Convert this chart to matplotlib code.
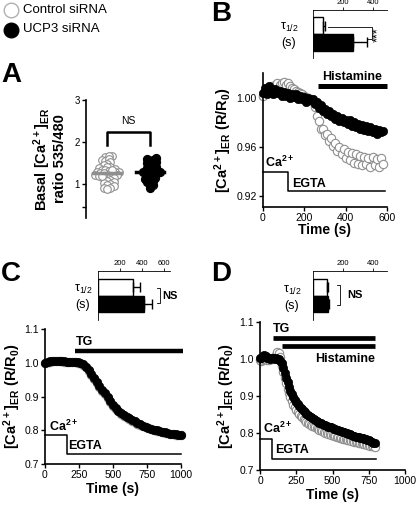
import numpy as np
import matplotlib.pyplot as plt

plt.rcParams['font.family'] = ['Liberation Sans', 'DejaVu Sans']
plt.rcParams['mathtext.default'] = 'regular'

W, H = 416, 505

# panel A: basal ER calcium, ratio 535/480
ctrl_A = [1.66, 1.65, 1.68, 1.58, 1.55, 1.60, 1.52, 1.48, 1.45, 1.42, 1.40, 1.38, 1.36, 1.35,
          1.33, 1.31, 1.30, 1.29, 1.28, 1.27, 1.25, 1.24, 1.22, 1.21, 1.20, 1.18, 1.16, 1.15,
          1.12, 1.10, 1.08, 1.05, 1.02, 1.00, 0.98, 0.95, 0.92, 0.90, 0.88, 1.26, 1.34, 1.19]
ucp3_A = [1.62, 1.60, 1.58, 1.55, 1.52, 1.50, 1.48, 1.45, 1.42, 1.40, 1.38, 1.35, 1.33, 1.31,
          1.30, 1.29, 1.28, 1.27, 1.25, 1.23, 1.20, 1.18, 1.15, 1.12, 1.10, 1.08, 1.05, 1.02,
          0.98, 0.92]

# panel B: histamine
t_B = np.arange(0, 590, 10)
ucp3_B = [1.004, 1.008, 1.003, 1.010, 1.006, 1.003, 1.007, 1.004, 1.006, 1.002,
          1.005, 1.002, 1.004, 1.000, 1.003, 1.001, 1.003, 0.999, 1.002, 0.999,
          1.001, 0.997, 1.000, 0.998, 0.999, 0.995, 0.997, 0.992, 0.994, 0.989,
          0.991, 0.987, 0.989, 0.985, 0.987, 0.983, 0.985, 0.981, 0.984, 0.980,
          0.982, 0.979, 0.982, 0.977, 0.980, 0.976, 0.979, 0.975, 0.978, 0.974,
          0.977, 0.973, 0.976, 0.972, 0.975, 0.971, 0.974, 0.972, 0.973]
ctrl_B = [1.002, 1.004, 1.006, 1.008, 1.009, 1.010, 1.011, 1.012, 1.011, 1.012,
          1.013, 1.011, 1.012, 1.010, 1.008, 1.007, 1.006, 1.005, 1.004, 1.003,
          1.002, 1.001, 1.000, 0.999, 0.997, 0.993, 0.985, 0.981, 0.975, 0.975,
          0.970, 0.971, 0.965, 0.967, 0.961, 0.963, 0.957, 0.960, 0.954, 0.958,
          0.951, 0.956, 0.949, 0.955, 0.947, 0.954, 0.946, 0.953, 0.945, 0.952,
          0.946, 0.951, 0.944, 0.952, 0.945, 0.950, 0.944, 0.951, 0.946]
tau_B = [65, 265]
tau_B_err = [15, 95]

# panel C: thapsigargin
t_C = np.arange(0, 1001, 20)
ucp3_C = [1.000, 1.002, 1.004, 1.005, 1.006, 1.006, 1.005, 1.004, 1.003, 1.003, 1.002, 1.002,
          1.001, 1.000, 0.995, 0.988, 0.978, 0.966, 0.955, 0.943, 0.931, 0.920, 0.909, 0.898,
          0.886, 0.875, 0.866, 0.858, 0.851, 0.845, 0.840, 0.835, 0.830, 0.826, 0.822, 0.818,
          0.814, 0.811, 0.808, 0.805, 0.802, 0.800, 0.798, 0.796, 0.794, 0.792, 0.790, 0.789,
          0.788, 0.787, 0.786]
ctrl_C = [0.999, 1.001, 1.003, 1.004, 1.005, 1.005, 1.004, 1.003, 1.002, 1.002, 1.001, 1.001,
          1.000, 0.999, 0.993, 0.986, 0.976, 0.964, 0.952, 0.940, 0.928, 0.917, 0.906, 0.895,
          0.884, 0.873, 0.864, 0.856, 0.849, 0.843, 0.838, 0.833, 0.828, 0.824, 0.820, 0.816,
          0.813, 0.810, 0.807, 0.804, 0.801, 0.799, 0.797, 0.795, 0.793, 0.791, 0.789, 0.788,
          0.787, 0.786, 0.785]
tau_C = [320, 420]
tau_C_err = [60, 70]

# panel D: TG + histamine
t_D = np.arange(0, 800, 10)
ucp3_D = [1.002, 1.004, 1.008, 1.010, 1.007, 1.004, 1.002, 1.001, 1.003, 1.002, 1.000, 1.002,
          1.001, 0.999, 0.995, 0.988, 0.976, 0.963, 0.950, 0.937, 0.925, 0.914, 0.905, 0.897,
          0.890, 0.884, 0.878, 0.873, 0.868, 0.864, 0.860, 0.856, 0.852, 0.849, 0.846, 0.843,
          0.840, 0.837, 0.835, 0.833, 0.830, 0.828, 0.826, 0.824, 0.822, 0.821, 0.819, 0.817,
          0.816, 0.815, 0.813, 0.812, 0.810, 0.809, 0.808, 0.806, 0.805, 0.803, 0.802, 0.800,
          0.799, 0.797, 0.796, 0.794, 0.793, 0.791, 0.790, 0.789, 0.788, 0.787, 0.786, 0.786,
          0.785, 0.784, 0.782, 0.780, 0.778, 0.776, 0.774, 0.772]
ctrl_D = [0.996, 0.994, 0.997, 0.999, 1.001, 0.998, 0.997, 0.999, 1.000, 1.003, 1.006, 1.012,
          1.018, 1.015, 1.005, 0.982, 0.966, 0.950, 0.934, 0.920, 0.907, 0.896, 0.886, 0.877,
          0.869, 0.862, 0.856, 0.851, 0.846, 0.842, 0.838, 0.834, 0.831, 0.828, 0.825, 0.822,
          0.820, 0.818, 0.815, 0.813, 0.811, 0.809, 0.807, 0.805, 0.803, 0.801, 0.800, 0.798,
          0.797, 0.795, 0.794, 0.792, 0.791, 0.790, 0.788, 0.787, 0.786, 0.785, 0.784, 0.783,
          0.782, 0.781, 0.780, 0.779, 0.778, 0.777, 0.776, 0.775, 0.774, 0.773, 0.772, 0.771,
          0.770, 0.769, 0.768, 0.767, 0.766, 0.765, 0.764, 0.763]
tau_D = [93, 100]
tau_D_err = [8, 8]

GREY = '#8f8f8f'
YLAB = '[Ca$^{2+}$]$_{ER}$ (R/R$_0$)'


def box(l, t, r, b):
    return [l / W, 1 - b / H, (r - l) / W, (b - t) / H]


def swarm(vals, center, dx, dy):
    """simple beeswarm offsets so dots dont sit on top of each other"""
    placed = []
    xs = np.zeros(len(vals))
    for i in np.argsort(vals):
        y = vals[i]
        for k in range(40):
            c = (k + 1) // 2 * dx * 0.5 * (1 if k % 2 else -1)
            if all(((c - px) / dx) ** 2 + ((y - py) / dy) ** 2 >= 1 for px, py in placed):
                break
        placed.append((c, y))
        xs[i] = center + c
    return xs


def style(ax):
    for s in ['top', 'right']:
        ax.spines[s].set_visible(False)
    for s in ['left', 'bottom']:
        ax.spines[s].set_linewidth(1.2)
    ax.tick_params(direction='out', length=3, width=1, labelsize=7.5, pad=1.5)


def trace(ax, t, ctrl, ucp3):
    ax.plot(t, ctrl, 'o', ms=6, mfc='white', mec=GREY, mew=0.8, clip_on=False)
    ax.plot(t, ucp3, 'o', ms=6, mfc='black', mec='black', mew=0.5, clip_on=False)


def stim(ax, hi, lo, t_sw, t_end):
    ax.plot([0, t_sw, t_sw, t_end], [hi, hi, lo, lo], color='black', lw=1.1, clip_on=False)


def inset(rect, vals, errs, xmax, ticks, label_xy):
    ax = fig.add_axes(box(*rect))
    ax.barh([0, 1], vals, height=1.0, color=['white', 'black'], edgecolor='black', lw=1)
    ax.errorbar(vals, [0, 1], xerr=[[0, 0], errs], fmt='none', ecolor='black',
                elinewidth=1, capsize=3.5, capthick=1)
    ax.set_xlim(0, xmax)
    ax.set_ylim(1.95, -0.95)
    ax.xaxis.tick_top()
    ax.set_xticks(ticks)
    ax.set_yticks([])
    ax.tick_params(axis='x', labelsize=5.5, length=2, width=0.6, pad=1)
    for s in ['bottom', 'right']:
        ax.spines[s].set_visible(False)
    for s in ['top', 'left']:
        ax.spines[s].set_linewidth(0.6)
    x, y = label_xy
    fig.text(x / W, 1 - y / H, 'τ$_{1/2}$', ha='center', va='center', fontsize=9)
    fig.text(x / W, 1 - (y + 16) / H, '(s)', ha='center', va='center', fontsize=9)
    return ax


fig = plt.figure(figsize=(W / 100, H / 100), dpi=100)

# legend and panel letters
ov = fig.add_axes([0, 0, 1, 1])
ov.set_xlim(0, W)
ov.set_ylim(H, 0)
ov.axis('off')
ov.plot(10.5, 10, 'o', ms=10.5, mfc='white', mec='#b0b0b0', mew=1)
ov.plot(10.5, 29.5, 'o', ms=10.5, mfc='black', mec='black')
ov.text(23, 10, 'Control siRNA', va='center', fontsize=9.5)
ov.text(23, 29.5, 'UCP3 siRNA', va='center', fontsize=9.5)
for lab, x, y in [('A', 1, 75), ('B', 211, 14), ('C', 1, 274), ('D', 211, 274)]:
    ov.text(x, y, lab, fontsize=20, fontweight='bold', va='center')

# ---- A
axA = fig.add_axes(box(86, 100, 176, 218))
dx, dy = 3.3 / 43, 3.3 / 42
axA.scatter(swarm(ctrl_A, 0.49, dx, dy), ctrl_A, s=30, facecolors='white',
            edgecolors=GREY, lw=0.8, zorder=2)
axA.scatter(swarm(ucp3_A, 1.49, dx, dy), ucp3_A, s=32, color='black', zorder=2)
for xc, v, col in [(0.49, ctrl_A, GREY), (1.49, ucp3_A, 'black')]:
    m = np.mean(v)
    sem = np.std(v) / np.sqrt(len(v))
    axA.plot([xc - 0.33, xc + 0.33], [m, m], color=col, lw=2.5, zorder=3)
    axA.errorbar(xc, m, yerr=sem, color=col, capsize=3, lw=1.2, zorder=3)
axA.plot([0.49, 0.49, 1.49, 1.49], [1.93, 2.23, 2.23, 1.93], color='black', lw=1.8)
axA.text(0.99, 2.38, 'NS', ha='center', va='bottom', fontsize=7.5)
axA.set_xlim(0, 2.1)
axA.set_ylim(0.2, 3.0)
style(axA)
axA.spines['bottom'].set_visible(False)
axA.set_xticks([])
axA.set_yticks([0.45, 1, 2, 3])
axA.set_yticklabels(['', '1', '2', '3'])
axA.tick_params(labelsize=7)
axA.set_ylabel('Basal [Ca$^{2+}$]$_{ER}$\nratio 535/480', fontweight='bold',
               fontsize=10.5, labelpad=5, linespacing=1.05)

# ---- B
axB = fig.add_axes(box(263, 73, 387, 207))
trace(axB, t_B, ctrl_B, ucp3_B)
axB.plot([268, 600], [1.0098, 1.0098], color='black', lw=3.6, solid_capstyle='butt', clip_on=False)
axB.text(430, 1.0125, 'Histamine', ha='center', va='bottom', fontsize=9, fontweight='bold')
stim(axB, 0.9396, 0.9238, 120, 590)
axB.text(10, 0.9415, 'Ca$^{2+}$', va='bottom', fontsize=9, fontweight='bold')
axB.text(140, 0.9300, 'EGTA', va='center', fontsize=9, fontweight='bold')
axB.set_xlim(0, 600)
axB.set_ylim(0.911, 1.0204)
axB.set_xticks([0, 200, 400, 600])
axB.set_yticks([0.92, 0.96, 1.00])
axB.set_yticklabels(['0.92', '0.96', '1.00'])
style(axB)
axB.set_xlabel('Time (s)', fontweight='bold', fontsize=10, labelpad=0)
axB.set_ylabel(YLAB, fontweight='bold', fontsize=10.5, labelpad=2)

insB = inset((313, 10, 387, 58), tau_B, tau_B_err, 490, [200, 400], (289, 27))
insB.plot([99, 391, 391, 360], [0.09, 0.09, 0.79, 0.79], color='black', lw=0.6, clip_on=False)
insB.text(434, 0.55, '***', rotation=90, ha='center', va='center', fontsize=9, clip_on=False)

# ---- C
axC = fig.add_axes(box(45, 329, 181, 464))
trace(axC, t_C, ctrl_C, ucp3_C)
axC.plot([220, 1015], [1.035, 1.035], color='black', lw=3.2, solid_capstyle='butt', clip_on=False)
axC.text(225, 1.062, 'TG', va='center', fontsize=9, fontweight='bold')
stim(axC, 0.785, 0.73, 160, 1000)
axC.text(30, 0.79, 'Ca$^{2+}$', va='bottom', fontsize=9, fontweight='bold')
axC.text(170, 0.753, 'EGTA', va='center', fontsize=9, fontweight='bold')
axC.set_xlim(0, 1000)
axC.set_ylim(0.7, 1.1)
axC.set_xticks([0, 250, 500, 750, 1000])
axC.set_yticks([0.7, 0.8, 0.9, 1.0, 1.1])
style(axC)
axC.set_xlabel('Time (s)', fontweight='bold', fontsize=10, labelpad=1)
axC.set_ylabel(YLAB, fontweight='bold', fontsize=10.5, labelpad=0.5)

insC = inset((98, 271, 170, 320), tau_C, tau_C_err, 655, [200, 400, 600], (83, 289))
insC.plot([540, 564, 564, 540], [0.03, 0.03, 0.97, 0.97], color='black', lw=0.6, clip_on=False)
insC.text(582, 0.55, 'NS', va='center', fontsize=8, fontweight='bold', clip_on=False)

# ---- D
axD = fig.add_axes(box(260, 322, 405, 470))
trace(axD, t_D, ctrl_D, ucp3_D)
axD.plot([90, 790], [1.057, 1.057], color='black', lw=3.4, solid_capstyle='butt')
axD.plot([150, 790], [1.035, 1.035], color='black', lw=3.4, solid_capstyle='butt')
axD.text(92, 1.08, 'TG', va='center', fontsize=9, fontweight='bold')
axD.text(790, 1.0, 'Histamine', ha='right', va='center', fontsize=9, fontweight='bold')
stim(axD, 0.785, 0.73, 85, 800)
axD.text(20, 0.792, 'Ca$^{2+}$', va='bottom', fontsize=9, fontweight='bold')
axD.text(105, 0.755, 'EGTA', va='center', fontsize=9, fontweight='bold')
axD.set_xlim(0, 1000)
axD.set_ylim(0.7, 1.1)
axD.set_xticks([0, 250, 500, 750, 1000])
axD.set_yticks([0.7, 0.8, 0.9, 1.0, 1.1])
style(axD)
axD.set_xlabel('Time (s)', fontweight='bold', fontsize=10, labelpad=1)
axD.set_ylabel(YLAB, fontweight='bold', fontsize=10.5, labelpad=1.5)

insD = inset((313, 271, 387, 320), tau_D, tau_D_err, 490, [200, 400], (292, 290))
insD.plot([160, 179, 179, 160], [-0.15, -0.15, 1.05, 1.05], color='black', lw=0.6, clip_on=False)
insD.text(230, 0.5, 'NS', va='center', fontsize=8, fontweight='bold', clip_on=False)

fig.savefig('out.png', dpi=100)
